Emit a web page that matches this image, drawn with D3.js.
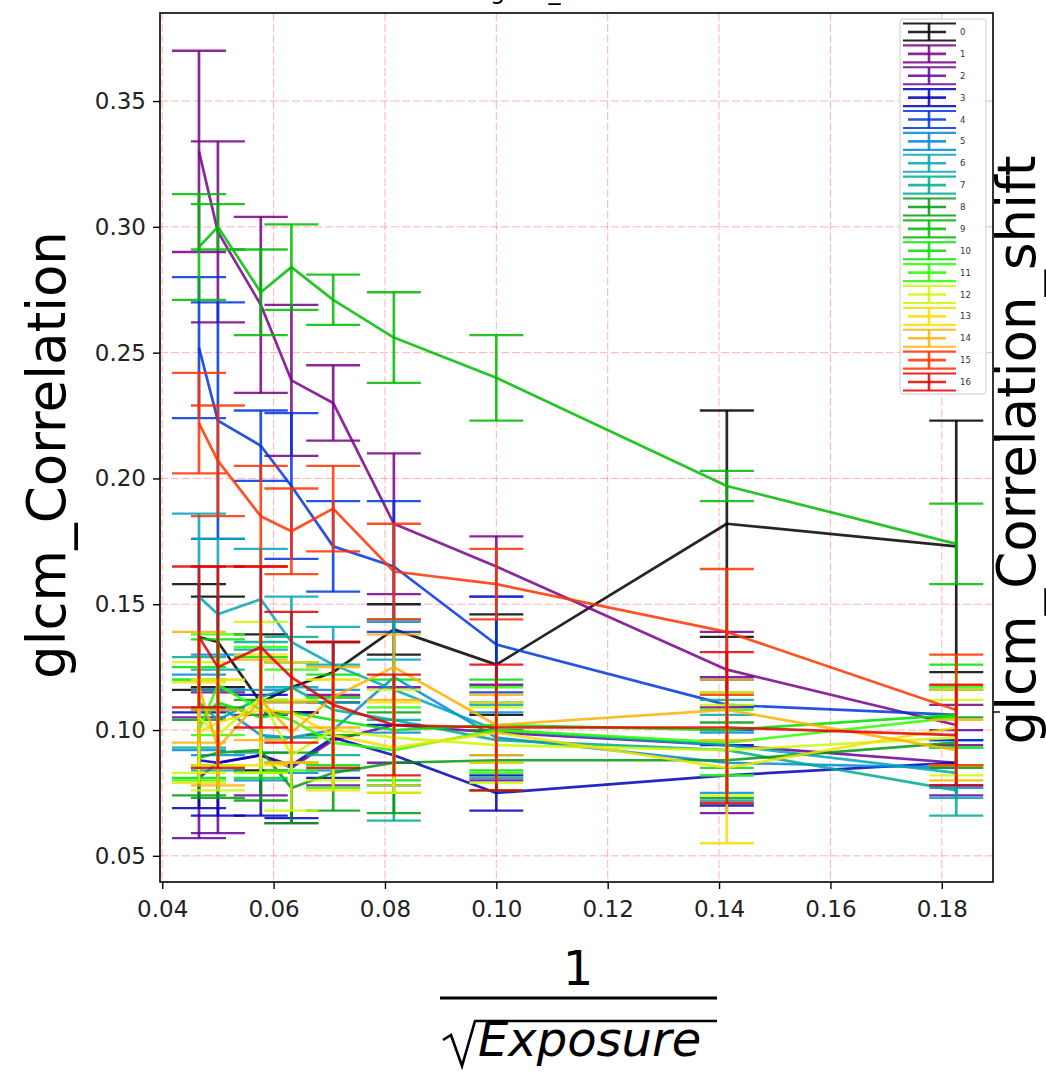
<!DOCTYPE html>
<html><head><meta charset="utf-8">
<script src="https://cdn.jsdelivr.net/npm/d3@7/dist/d3.min.js"></script>
<style>
body{margin:0;background:#fff;}
svg{display:block;font-family:"DejaVu Sans",sans-serif;}
</style>
</head><body>
<svg id="chart" width="1046" height="1073"></svg>
<script>
// ---- data ----
const xValues = [0.0466, 0.0500, 0.0577, 0.0632, 0.0707, 0.0816, 0.1000, 0.1414, 0.1826];
const xTicks = [0.04, 0.06, 0.08, 0.10, 0.12, 0.14, 0.16, 0.18];
const yTicks = [0.05, 0.10, 0.15, 0.20, 0.25, 0.30, 0.35];
const seriesLabels = ["0","1","2","3","4","5","6","7","8","9","10","11","12","13","14","15","16"];
const seriesColors = ["#000000","#790089","#6a009d","#0000bb","#0035dd","#008add","#00a4bb","#00aa90",
                      "#009b0f","#00bb00","#00e100","#29ff00","#ccf900","#f6df00","#ffb000","#ff3300","#e40000"];

const mean0  = [0.137, 0.135, 0.111, 0.117, 0.123, 0.140, 0.126, 0.182, 0.173];
const err0   = [0.021, 0.018, 0.027, 0.010, 0.012, 0.010, 0.020, 0.045, 0.050];
const mean1  = [0.330, 0.298, 0.269, 0.239, 0.230, 0.182, 0.165, 0.124, 0.102];
const err1   = [0.040, 0.036, 0.035, 0.030, 0.015, 0.028, 0.012, 0.015, 0.008];
const mean2  = [0.081, 0.087, 0.090, 0.085, 0.096, 0.102, 0.099, 0.094, 0.087];
const err2   = [0.024, 0.028, 0.016, 0.022, 0.018, 0.015, 0.019, 0.027, 0.013];
const mean3  = [0.088, 0.087, 0.090, 0.086, 0.097, 0.090, 0.075, 0.082, 0.087];
const err3   = [0.019, 0.021, 0.024, 0.021, 0.016, 0.012, 0.007, 0.012, 0.009];
const mean4  = [0.252, 0.223, 0.213, 0.197, 0.173, 0.165, 0.134, 0.110, 0.106];
const err4   = [0.028, 0.047, 0.014, 0.029, 0.018, 0.026, 0.019, 0.010, 0.010];
const mean5  = [0.107, 0.110, 0.098, 0.097, 0.100, 0.121, 0.097, 0.087, 0.085];
const err5   = [0.015, 0.020, 0.018, 0.014, 0.016, 0.022, 0.010, 0.012, 0.008];
const mean6  = [0.153, 0.146, 0.152, 0.135, 0.126, 0.116, 0.100, 0.094, 0.083];
const err6   = [0.033, 0.030, 0.020, 0.018, 0.015, 0.012, 0.010, 0.012, 0.010];
const mean7  = [0.111, 0.104, 0.113, 0.117, 0.108, 0.104, 0.096, 0.092, 0.076];
const err7   = [0.018, 0.020, 0.022, 0.020, 0.018, 0.040, 0.015, 0.020, 0.010];
const mean8  = [0.089, 0.091, 0.092, 0.077, 0.083, 0.087, 0.088, 0.088, 0.095];
const err8   = [0.015, 0.018, 0.020, 0.014, 0.015, 0.020, 0.012, 0.015, 0.010];
const mean9  = [0.292, 0.300, 0.274, 0.284, 0.271, 0.256, 0.240, 0.197, 0.174];
const err9   = [0.021, 0.009, 0.017, 0.017, 0.010, 0.018, 0.017, 0.006, 0.016];
const mean10 = [0.103, 0.111, 0.105, 0.107, 0.104, 0.100, 0.102, 0.100, 0.106];
const err10  = [0.022, 0.025, 0.024, 0.020, 0.018, 0.020, 0.018, 0.015, 0.020];
const mean11 = [0.100, 0.118, 0.108, 0.104, 0.095, 0.092, 0.100, 0.095, 0.105];
const err11  = [0.020, 0.020, 0.025, 0.020, 0.018, 0.017, 0.017, 0.013, 0.012];
const mean12 = [0.105, 0.098, 0.113, 0.090, 0.100, 0.097, 0.094, 0.092, 0.097];
const err12  = [0.022, 0.022, 0.030, 0.022, 0.020, 0.019, 0.015, 0.018, 0.015];
const mean13 = [0.099, 0.103, 0.108, 0.107, 0.098, 0.093, 0.099, 0.085, 0.101];
const err13  = [0.020, 0.017, 0.022, 0.020, 0.022, 0.018, 0.012, 0.030, 0.015];
const mean14 = [0.117, 0.093, 0.112, 0.099, 0.113, 0.125, 0.102, 0.108, 0.092];
const err14  = [0.022, 0.015, 0.016, 0.012, 0.012, 0.013, 0.012, 0.012, 0.012];
const mean15 = [0.222, 0.207, 0.185, 0.179, 0.188, 0.163, 0.158, 0.139, 0.108];
const err15  = [0.020, 0.022, 0.020, 0.017, 0.017, 0.019, 0.014, 0.025, 0.022];
const mean16 = [0.137, 0.125, 0.133, 0.121, 0.110, 0.102, 0.101, 0.101, 0.098];
const err16  = [0.028, 0.040, 0.032, 0.026, 0.025, 0.020, 0.025, 0.030, 0.020];

const means = [mean0,mean1,mean2,mean3,mean4,mean5,mean6,mean7,mean8,mean9,mean10,mean11,mean12,mean13,mean14,mean15,mean16];
const errs  = [err0,err1,err2,err3,err4,err5,err6,err7,err8,err9,err10,err11,err12,err13,err14,err15,err16];

// ---- layout ----
const L = 160, R = 993, T = 13, B = 882;
const svg = d3.select("#chart");
const x = d3.scaleLinear().domain([0.0396, 0.1892]).range([L, R]);
const y = d3.scaleLinear().domain([0.0396, 0.385]).range([B, T]);

// title (cropped at the top edge as in the reference)
svg.append("text").attr("x", 490).attr("y", -1.5)
  .attr("text-anchor", "start").attr("font-size", 24).attr("fill", "#000")
  .text("glcm_Correlation");

// grid
const grid = svg.append("g");
grid.selectAll("line.gx").data(xTicks).join("line")
  .attr("x1", d => x(d)).attr("x2", d => x(d)).attr("y1", T).attr("y2", B)
  .attr("stroke", "#ff0000").attr("stroke-opacity", 0.3).attr("stroke-width", 1).attr("stroke-dasharray", "8,3");
grid.selectAll("line.gy").data(yTicks).join("line")
  .attr("y1", d => y(d)).attr("y2", d => y(d)).attr("x1", L).attr("x2", R)
  .attr("stroke", "#ff0000").attr("stroke-opacity", 0.3).attr("stroke-width", 1).attr("stroke-dasharray", "8,3");

// series
const capHalf = 27;
const lineGen = d3.line().x(d => x(d.x)).y(d => y(d.v));
const plot = svg.append("g");
means.forEach((m, i) => {
  const pts = xValues.map((xv, j) => ({x: xv, v: m[j], e: errs[i][j]}));
  const g = plot.append("g").attr("stroke", seriesColors[i]).attr("stroke-opacity", 0.85).attr("fill", "none");
  g.selectAll("line.bar").data(pts).join("line")
    .attr("x1", d => x(d.x)).attr("x2", d => x(d.x))
    .attr("y1", d => y(d.v - d.e)).attr("y2", d => y(d.v + d.e)).attr("stroke-width", 2.7);
  g.selectAll("line.capT").data(pts).join("line")
    .attr("x1", d => x(d.x) - capHalf).attr("x2", d => x(d.x) + capHalf)
    .attr("y1", d => y(d.v + d.e)).attr("y2", d => y(d.v + d.e)).attr("stroke-width", 2.3);
  g.selectAll("line.capB").data(pts).join("line")
    .attr("x1", d => x(d.x) - capHalf).attr("x2", d => x(d.x) + capHalf)
    .attr("y1", d => y(d.v - d.e)).attr("y2", d => y(d.v - d.e)).attr("stroke-width", 2.3);
  g.append("path").datum(pts).attr("d", lineGen).attr("stroke-width", 2.7).attr("stroke-linejoin", "round");
});

// axes
const ax = svg.append("g").attr("transform", `translate(0,${B})`)
  .call(d3.axisBottom(x).tickValues(xTicks).tickFormat(d3.format(".2f")).tickSize(7).tickPadding(12));
const ay = svg.append("g").attr("transform", `translate(${L},0)`)
  .call(d3.axisLeft(y).tickValues(yTicks).tickFormat(d3.format(".2f")).tickSize(7).tickPadding(7));
[ax, ay].forEach(a => {
  a.select(".domain").remove();
  a.selectAll(".tick line").attr("stroke", "#000").attr("stroke-width", 1.4);
  a.selectAll(".tick text").attr("font-size", 23).attr("fill", "#222").attr("font-family", "DejaVu Sans");
});
// right side ticks
svg.append("g").selectAll("line").data([440, 712]).join("line")
  .attr("x1", R).attr("x2", R + 7).attr("y1", d => d).attr("y2", d => d)
  .attr("stroke", "#000").attr("stroke-width", 1.4);

// frame
svg.append("rect").attr("x", L).attr("y", T).attr("width", R - L).attr("height", B - T)
  .attr("fill", "none").attr("stroke", "#000").attr("stroke-width", 1.6);

// legend
const ly = d3.scalePoint().domain(seriesLabels).range([32, 382]);
const lg = svg.append("g");
lg.append("rect").attr("x", 900).attr("y", 19).attr("width", 86).attr("height", 375).attr("rx", 3)
  .attr("fill", "#fff").attr("fill-opacity", 0.8).attr("stroke", "#cccccc").attr("stroke-width", 1);
seriesLabels.forEach((lab, i) => {
  const cy = ly(lab), cx = 929;
  const g = lg.append("g").attr("stroke", seriesColors[i]).attr("stroke-opacity", 0.85);
  g.append("line").attr("x1", cx - 26).attr("x2", cx + 27).attr("y1", cy - 8.5).attr("y2", cy - 8.5).attr("stroke-width", 2.2);
  g.append("line").attr("x1", cx - 26).attr("x2", cx + 27).attr("y1", cy + 8.5).attr("y2", cy + 8.5).attr("stroke-width", 2.2);
  g.append("line").attr("x1", cx).attr("x2", cx).attr("y1", cy - 8.5).attr("y2", cy + 8.5).attr("stroke-width", 2.6);
  g.append("line").attr("x1", cx - 21).attr("x2", cx + 17).attr("y1", cy).attr("y2", cy).attr("stroke-width", 2.6);
  lg.append("text").attr("x", 960).attr("y", cy + 3).attr("font-size", 8.5).attr("fill", "#333").text(lab);
});

// y label (left)
svg.append("text").attr("transform", "translate(65,455) rotate(-90)")
  .attr("text-anchor", "middle").attr("font-size", 53).attr("fill", "#000").text("glcm_Correlation");
// y label (right, cropped at the edge as in the reference)
svg.append("text").attr("transform", "translate(1035,450) rotate(-90)")
  .attr("text-anchor", "middle").attr("font-size", 53).attr("fill", "#000").text("glcm_Correlation_shift");

// x label: 1 / sqrt(Exposure)
const xl = svg.append("g");
xl.append("text").attr("x", 578).attr("y", 985).attr("text-anchor", "middle").attr("font-size", 48).attr("fill", "#000").text("1");
xl.append("line").attr("x1", 440).attr("x2", 717).attr("y1", 998).attr("y2", 998).attr("stroke", "#000").attr("stroke-width", 3);
xl.append("path").attr("d", "M443,1040 L451,1035 L462,1066 L475,1021 L717,1021")
  .attr("fill", "none").attr("stroke", "#000").attr("stroke-width", 2.6);
xl.append("text").attr("x", 478).attr("y", 1056).attr("font-size", 48).attr("font-style", "italic")
  .attr("fill", "#000").text("Exposure");
</script>
</body></html>
